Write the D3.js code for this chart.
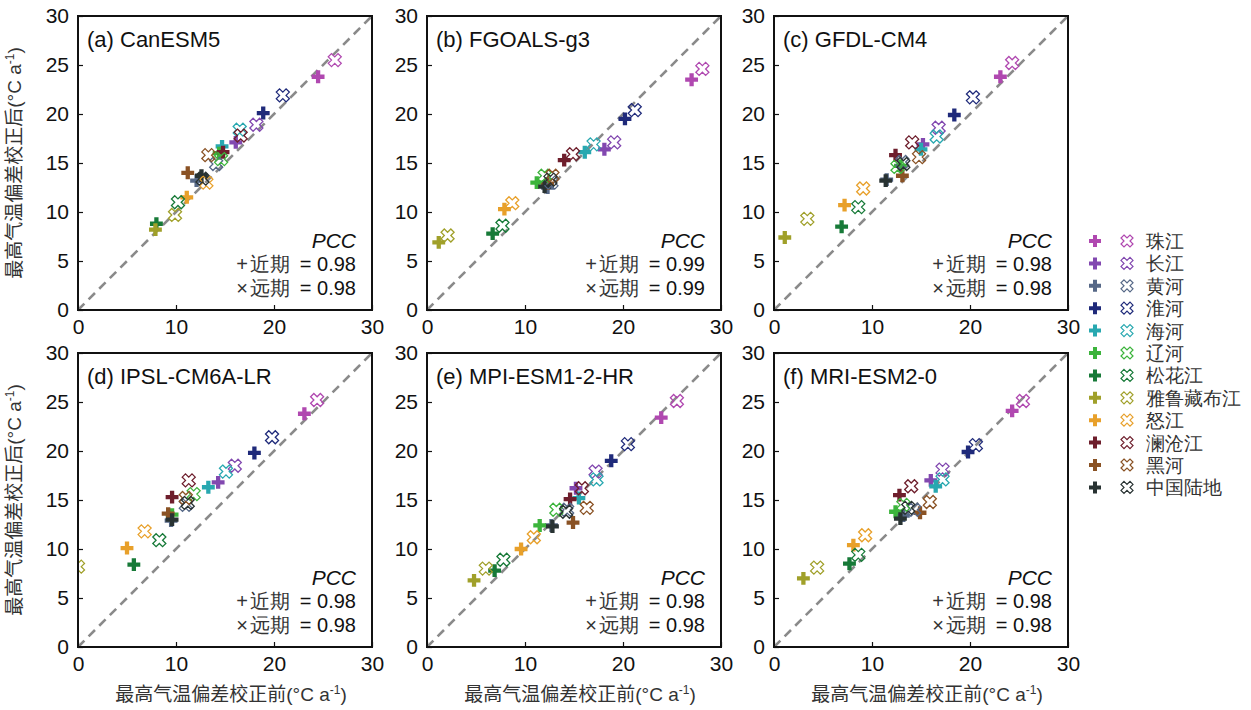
<!DOCTYPE html>
<html>
<head>
<meta charset="utf-8">
<script src="https://cdn.jsdelivr.net/npm/d3@7"></script>
<style>
  body { margin: 0; background: #fff; }
  svg text { font-family: "Liberation Sans", Arial, sans-serif; }
</style>
</head>
<body>
<div id="chart"></div>
<script>
// basins in legend order
var basins = ["珠江", "长江", "黄河", "淮河", "海河", "辽河", "松花江", "雅鲁藏布江", "怒江", "澜沧江", "黑河", "中国陆地"];
var basinColors = ["#b048b0", "#8248b0", "#566887", "#1f2a7a", "#28a8b0", "#3cb43c",
                   "#177a38", "#a0a02a", "#e8a02a", "#6e1e2c", "#8a5224", "#283232"];

var modelNames = ["(a) CanESM5", "(b) FGOALS-g3", "(c) GFDL-CM4", "(d) IPSL-CM6A-LR", "(e) MPI-ESM1-2-HR", "(f) MRI-ESM2-0"];
var pccNear = ["0.98", "0.99", "0.98", "0.98", "0.98", "0.98"];
var pccFar = ["0.98", "0.99", "0.98", "0.98", "0.98", "0.98"];

// [before correction, after correction], one pair per basin (near term = +, far term = x)
var canNear = [[24.5,23.8],[16.1,17.1],[12.1,13.2],[18.9,20.1],[14.7,16.7],[14.4,16.0],[8.0,8.8],[7.9,8.2],[11.1,11.5],[14.8,16.1],[11.2,14.0],[12.6,13.7]];
var canFar  = [[26.2,25.5],[18.2,18.9],[14.1,14.9],[20.9,21.9],[16.5,18.4],[14.6,15.4],[10.2,11.0],[9.9,9.7],[13.1,13.0],[16.6,17.8],[13.3,15.8],[12.7,13.4]];
var fgoNear = [[27.0,23.5],[18.1,16.4],[12.3,12.5],[20.2,19.5],[16.1,16.1],[11.2,13.0],[6.7,7.8],[1.2,6.9],[7.9,10.3],[14.0,15.3],[12.3,12.9],[12.0,12.6]];
var fgoFar  = [[28.1,24.6],[19.1,17.1],[12.7,13.0],[21.2,20.4],[17.0,16.9],[12.0,13.7],[7.7,8.6],[2.1,7.6],[8.7,10.9],[14.9,15.9],[12.8,13.7],[12.6,13.3]];
var gfdNear = [[23.1,23.8],[15.2,16.9],[11.5,13.3],[18.4,19.9],[15.0,16.4],[12.9,14.7],[6.9,8.5],[1.1,7.4],[7.2,10.7],[12.4,15.8],[13.1,13.7],[11.4,13.2]];
var gfdFar  = [[24.3,25.2],[16.8,18.6],[13.1,15.1],[20.3,21.7],[16.6,17.7],[12.6,14.6],[8.6,10.5],[3.4,9.3],[9.1,12.4],[14.1,17.1],[14.8,15.6],[13.2,14.9]];
var ipsNear = [[23.1,23.8],[14.3,16.8],[9.5,12.9],[18.0,19.8],[13.3,16.3],[9.6,13.5],[5.7,8.4],[-1.2,7.0],[5.0,10.1],[9.6,15.3],[9.2,13.6],[9.6,13.0]];
var ipsFar  = [[24.4,25.2],[16.0,18.5],[11.0,14.5],[19.8,21.4],[15.1,17.9],[11.8,15.6],[8.3,10.9],[0.0,8.2],[6.8,11.8],[11.3,17.0],[11.0,15.2],[11.2,14.7]];
var mpiNear = [[23.9,23.4],[15.2,16.2],[12.7,12.4],[18.8,19.0],[15.5,15.2],[11.5,12.4],[6.9,7.8],[4.8,6.8],[9.6,10.0],[14.6,15.1],[14.9,12.7],[12.8,12.3]];
var mpiFar  = [[25.5,25.1],[17.2,17.9],[14.3,14.0],[20.5,20.7],[17.3,17.1],[13.2,14.0],[7.8,8.9],[6.0,8.0],[10.9,11.2],[15.8,16.2],[16.3,14.2],[14.2,13.8]];
var mriNear = [[24.3,24.1],[16.0,17.0],[13.2,13.4],[19.8,19.9],[16.5,16.4],[12.4,13.8],[7.7,8.5],[3.0,7.0],[8.1,10.4],[12.8,15.5],[14.9,13.7],[12.9,13.1]];
var mriFar  = [[25.4,25.1],[17.2,18.1],[14.3,14.0],[20.6,20.6],[17.2,17.1],[13.2,14.5],[8.6,9.4],[4.4,8.1],[9.3,11.4],[14.0,16.4],[15.9,14.8],[13.7,14.2]];

var nearSets = [canNear, fgoNear, gfdNear, ipsNear, mpiNear, mriNear];
var farSets = [canFar, fgoFar, gfdFar, ipsFar, mpiFar, mriFar];

var yTicks = [0, 5, 10, 15, 20, 25, 30];
var xTicks = [0, 10, 20, 30];

var svgWidth = 1251;
var svgHeight = 710;
var side = 294;
var colLeft = [78, 427, 774];
var rowTop = [16, 353];

var svg = d3.select("#chart")
  .append("svg")
  .attr("width", svgWidth)
  .attr("height", svgHeight);

var plusPath = d3.symbol(d3.symbolCross).size(92)();
var crossPath = d3.symbol(d3.symbolCross).size(106)();

var x = d3.scaleLinear().domain([0, 30]).range([0, side]);
var y = d3.scaleLinear().domain([0, 30]).range([side, 0]);

svg.append("defs").append("clipPath")
  .attr("id", "plotclip")
  .append("rect")
  .attr("width", side)
  .attr("height", side);

modelNames.forEach(function(name, i) {
  var col = i % 3, row = Math.floor(i / 3);
  var g = svg.append("g")
    .attr("transform", `translate(${colLeft[col]}, ${rowTop[row]})`);

  // axes, ticks pointing inward
  var yAxis = g.append("g")
    .call(d3.axisLeft(y).tickValues(yTicks).tickSize(-5).tickPadding(9));
  var xAxis = g.append("g")
    .attr("transform", `translate(0, ${side})`)
    .call(d3.axisBottom(x).tickValues(xTicks).tickSize(-5).tickPadding(9));
  [yAxis, xAxis].forEach(function(a) {
    a.select(".domain").remove();
    a.selectAll(".tick line").attr("stroke", "#111").attr("stroke-width", 1.2);
    a.selectAll(".tick text")
      .attr("font-size", 21)
      .attr("fill", "#111")
      .attr("font-family", "Liberation Sans, Arial, sans-serif");
  });

  // 1:1 line
  g.append("line")
    .attr("x1", x(0)).attr("y1", y(0))
    .attr("x2", x(30)).attr("y2", y(30))
    .attr("stroke", "#8a8a8a")
    .attr("stroke-width", 2.6)
    .attr("stroke-dasharray", "9,6");

  var pts = g.append("g").attr("clip-path", "url(#plotclip)");

  pts.selectAll("path.near")
    .data(nearSets[i])
    .enter()
    .append("path")
    .attr("class", "near")
    .attr("d", plusPath)
    .attr("transform", d => `translate(${x(d[0])}, ${y(d[1])})`)
    .attr("fill", (d, k) => basinColors[k]);

  pts.selectAll("path.far")
    .data(farSets[i])
    .enter()
    .append("path")
    .attr("class", "far")
    .attr("d", crossPath)
    .attr("transform", d => `translate(${x(d[0])}, ${y(d[1])}) rotate(45)`)
    .attr("fill", "#fff")
    .attr("fill-opacity", 0)
    .attr("stroke", (d, k) => basinColors[k])
    .attr("stroke-width", 1.3);

  // frame
  g.append("rect")
    .attr("width", side)
    .attr("height", side)
    .attr("fill", "none")
    .attr("stroke", "#111")
    .attr("stroke-width", 2);

  g.append("text")
    .attr("x", 9)
    .attr("y", 31)
    .attr("font-size", 22)
    .attr("fill", "#111")
    .text(name);

  g.append("text")
    .attr("x", side - 16)
    .attr("y", side - 62)
    .attr("text-anchor", "end")
    .attr("font-size", 21)
    .attr("font-style", "italic")
    .attr("fill", "#111")
    .text("PCC");

  [["+", "近期", pccNear[i], side - 39], ["×", "远期", pccFar[i], side - 15]].forEach(function(r) {
    var t = g.append("text")
      .attr("x", side - 16)
      .attr("y", r[3])
      .attr("text-anchor", "end")
      .attr("font-size", 20)
      .attr("fill", "#111");
    t.append("tspan").attr("fill", "#333").text(r[0]);
    t.append("tspan").attr("fill", "#333").attr("dx", 2).text(r[1]);
    t.append("tspan").attr("dx", 10).text("= " + r[2]);
  });

  // axis titles
  if (col === 0) {
    var yt = svg.append("text")
      .attr("transform", `translate(21, ${rowTop[row] + side / 2}) rotate(-90)`)
      .attr("text-anchor", "middle")
      .attr("font-size", 19)
      .attr("fill", "#333");
    yt.append("tspan").attr("font-family", "Noto Sans CJK SC, sans-serif").text("最高气温偏差校正后");
    yt.append("tspan").text("(°C a");
    yt.append("tspan").attr("font-size", 12).attr("dy", -7).text("-1");
    yt.append("tspan").attr("dy", 7).text(")");
  }
  if (row === 1) {
    var xt = svg.append("text")
      .attr("x", colLeft[col] + side / 2 + 6)
      .attr("y", 701)
      .attr("text-anchor", "middle")
      .attr("font-size", 19)
      .attr("fill", "#333");
    xt.append("tspan").attr("font-family", "Noto Sans CJK SC, sans-serif").text("最高气温偏差校正前");
    xt.append("tspan").text("(°C a");
    xt.append("tspan").attr("font-size", 12).attr("dy", -7).text("-1");
    xt.append("tspan").attr("dy", 7).text(")");
  }
});

// legend
var legend = svg.append("g").attr("transform", "translate(1095, 241)");
var rows = legend.selectAll("g")
  .data(basins)
  .enter()
  .append("g")
  .attr("transform", (d, k) => `translate(0, ${k * 22.4})`);

rows.append("path")
  .attr("d", d3.symbol(d3.symbolCross).size(80)())
  .attr("fill", (d, k) => basinColors[k]);

rows.append("path")
  .attr("d", d3.symbol(d3.symbolCross).size(90)())
  .attr("transform", "translate(32, 0) rotate(45)")
  .attr("fill", "none")
  .attr("stroke", (d, k) => basinColors[k])
  .attr("stroke-width", 1.2);

rows.append("text")
  .attr("x", 51)
  .attr("y", 7)
  .attr("font-size", 19)
  .attr("font-family", "Noto Sans CJK SC, sans-serif")
  .attr("fill", "#333")
  .text(d => d);
</script>
</body>
</html>
